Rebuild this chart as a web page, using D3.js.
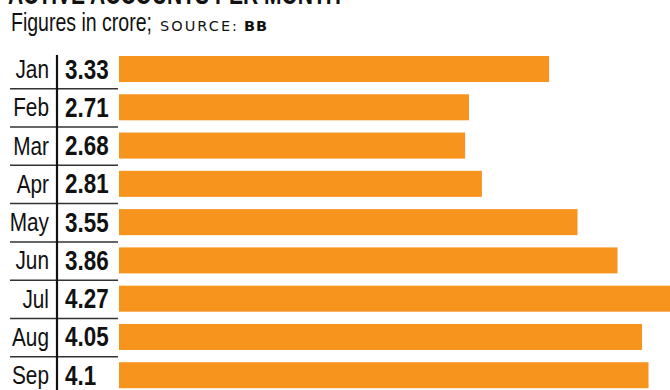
<!DOCTYPE html>
<html>
<head>
<meta charset="utf-8">
<script src="https://cdn.jsdelivr.net/npm/d3@7"></script>
<style>
html,body{margin:0;padding:0;background:#fff;overflow:hidden;}
svg{display:block;}
</style>
</head>
<body>
<script>
const titleText = "ACTIVE ACCOUNTS PER MONTH";
const subtitleText = "Figures in crore;";
const sourceLabel = "SOURCE:";
const sourceName = "BB";
const months = ["Jan","Feb","Mar","Apr","May","Jun","Jul","Aug","Sep"];
const values = [3.33, 2.71, 2.68, 2.81, 3.55, 3.86, 4.27, 4.05, 4.1];

const W = 670, H = 390;
const sans = "'Liberation Sans',Arial,sans-serif";
const svg = d3.select("body").append("svg").attr("width", W).attr("height", H);

// title (mostly cut off at top)
svg.append("text").attr("x", 8).attr("y", 4)
  .attr("font-family", sans).attr("font-weight", 700).attr("font-size", 30)
  .attr("textLength", 333).attr("lengthAdjust", "spacingAndGlyphs")
  .attr("fill", "#111").text(titleText);

svg.append("text").attr("x", 11).attr("y", 31)
  .attr("font-family", sans).attr("font-size", 26)
  .attr("textLength", 141).attr("lengthAdjust", "spacingAndGlyphs")
  .attr("fill", "#111").text(subtitleText);
svg.append("text").attr("x", 160).attr("y", 31)
  .attr("font-family", "'DejaVu Sans',sans-serif").attr("font-size", 14.5)
  .attr("textLength", 77).attr("lengthAdjust", "spacing")
  .attr("fill", "#111").text(sourceLabel);
svg.append("text").attr("x", 244).attr("y", 31)
  .attr("font-family", "'DejaVu Sans',sans-serif").attr("font-weight", 700).attr("font-size", 14.5)
  .attr("textLength", 23).attr("lengthAdjust", "spacing")
  .attr("fill", "#111").text(sourceName);

const step = 38.25;
const y = d3.scaleBand().domain(months)
  .range([50, 50 + step * months.length])
  .paddingInner(12.25 / step).paddingOuter(6 / step);
const x = d3.scaleLinear().domain([0, 4]).range([119, 119 + 129.15 * 4]);

const rows = svg.append("g").selectAll("g").data(months).join("g");

rows.append("rect")
  .attr("x", x(0))
  .attr("y", d => y(d))
  .attr("width", (d, i) => x(values[i]) - x(0))
  .attr("height", y.bandwidth())
  .attr("fill", "#f7941e");

rows.append("text")
  .attr("transform", d => `translate(49,${y(d) + y.bandwidth() / 2 + 9}) scale(0.8,1)`)
  .attr("text-anchor", "end")
  .attr("font-family", sans).attr("font-size", 26)
  .attr("fill", "#111").text(d => d);

rows.append("text")
  .attr("transform", d => `translate(65,${y(d) + y.bandwidth() / 2 + 9.5}) scale(0.83,1)`)
  .attr("font-family", sans).attr("font-weight", 700).attr("font-size", 27)
  .attr("fill", "#111").text((d, i) => String(values[i]));

// separators
svg.append("g").selectAll("line").data(months.slice(1)).join("line")
  .attr("x1", 10).attr("x2", 118)
  .attr("y1", d => y(d) - 5.5).attr("y2", d => y(d) - 5.5)
  .attr("stroke", "#333").attr("stroke-width", 1.5);

svg.append("line").attr("x1", 57).attr("x2", 57)
  .attr("y1", 55).attr("y2", H)
  .attr("stroke", "#111").attr("stroke-width", 2.2);
</script>
</body>
</html>
